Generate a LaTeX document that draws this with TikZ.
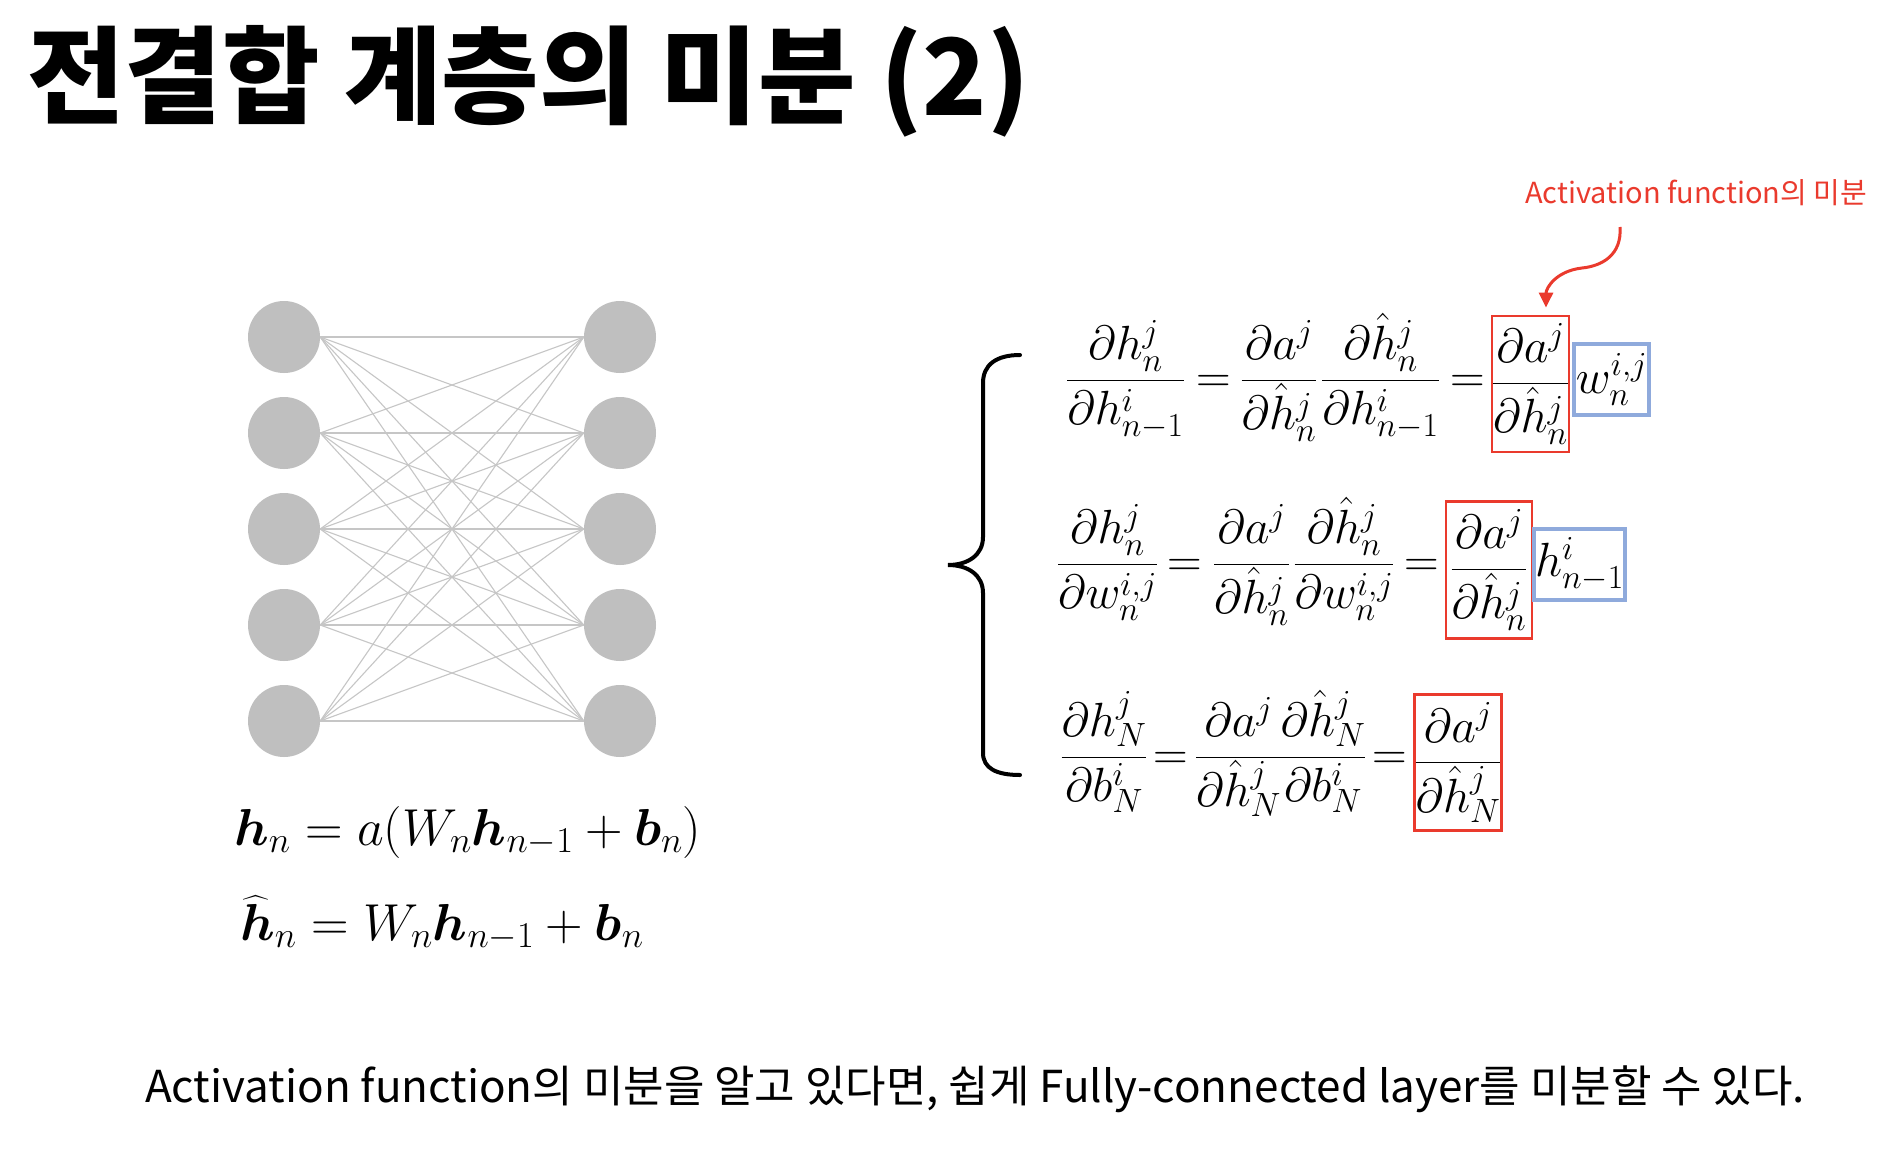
\RequirePackage{fix-cm}
\documentclass[tikz,border=0pt]{standalone}
\usepackage{amsmath,bm}
\usepackage[no-math]{fontspec}
\setmainfont{Noto Sans CJK KR}
\usetikzlibrary{arrows.meta}
\definecolor{boxred}{HTML}{EA3A2D}
\definecolor{boxblue}{HTML}{8FAADC}
\definecolor{neurongray}{HTML}{BFBFBF}
\definecolor{linegray}{HTML}{C6C6C6}
\newcommand\eqsize{\fontsize{48}{56}\selectfont}
\newcommand\leqsize{\fontsize{52}{60}\selectfont}
\begin{document}
\begin{tikzpicture}[x=1pt,y=-1pt,
  neuron/.style={circle, fill=neurongray, draw=none, minimum size=72pt, inner sep=0pt},
  netline/.style={draw=linegray, line width=1.1pt},
  piece/.style={inner sep=0pt, anchor=base, font=\eqsize},
  redbox/.style={draw=boxred, line width=2.8pt, inner sep=0pt, font=\eqsize},
  bluebox/.style={draw=boxblue, line width=4.5pt, inner sep=0pt, font=\eqsize},
  annarrow/.style={draw=boxred, line width=3pt, -{Triangle[length=15pt,width=14pt]}, shorten >=7pt},
  bracepath/.style={draw=black, line width=4pt, line cap=round}
]
\useasboundingbox[fill=white] (0,0) rectangle (1904,1154);

% title
\node[anchor=west, inner sep=0pt, font=\fontsize{106}{116}\selectfont\bfseries] (title) at (27,81) {전결합 계층의 미분 (2)};

% network
\foreach \k/\y in {1/337,2/433,3/529,4/625,5/721}{
  \node[neuron] (L\k) at (284,\y) {};
  \node[neuron] (R\k) at (620,\y) {};
}
\foreach \i in {1,...,5}{
  \foreach \j in {1,...,5}{
    \draw[netline] (L\i.east) -- (R\j.west);
  }
}

% left equations
\node[anchor=base west, inner sep=0pt, font=\leqsize] (eqa) at (234,845) {$\bm{h}_n = a(W_n\bm{h}_{n-1}+\bm{b}_n)$};
\node[anchor=base west, inner sep=0pt, font=\leqsize] (eqb) at (240,940) {$\widehat{\bm{h}}_n = W_n\bm{h}_{n-1}+\bm{b}_n$};

% brace
\draw[bracepath] (1020,355) .. controls (996,355) and (983,365) .. (983,383) -- (983,537)
  .. controls (983,555) and (968,565) .. (948,565)
  .. controls (968,565) and (983,575) .. (983,593) -- (983,753)
  .. controls (983,768) and (996,775) .. (1020,775);

% row 1
\node[piece] (r1l) at (1125.5,392) {$\displaystyle\frac{\partial h_n^j}{\partial h_{n-1}^i}$};
\node[piece] (r1e1) at (1213.5,392) {$=$};
\node[piece] (r1a) at (1279,392) {$\displaystyle\frac{\partial a^j}{\partial\hat{h}_n^j}$};
\node[piece] (r1b) at (1380.5,392) {$\displaystyle\frac{\partial\hat{h}_n^j}{\partial h_{n-1}^i}$};
\node[piece] (r1e2) at (1467.5,392) {$=$};
\node[redbox, minimum width=71pt, minimum height=136pt] (r1r) at (1530.5,384) {$\displaystyle\frac{\partial a^j}{\partial\hat{h}_n^j}$};
\node[bluebox, minimum width=75pt, minimum height=71pt] (r1w) at (1611.5,379.5) {$w_n^{i,j}$};

% row 2
\node[piece] (r2l) at (1107.5,576) {$\displaystyle\frac{\partial h_n^j}{\partial w_n^{i,j}}$};
\node[piece] (r2e1) at (1184.5,576) {$=$};
\node[piece] (r2a) at (1251.5,576) {$\displaystyle\frac{\partial a^j}{\partial\hat{h}_n^j}$};
\node[piece] (r2b) at (1344,576) {$\displaystyle\frac{\partial\hat{h}_n^j}{\partial w_n^{i,j}}$};
\node[piece] (r2e2) at (1421.5,576) {$=$};
\node[redbox, minimum width=86pt, minimum height=137pt] (r2r) at (1489,570) {$\displaystyle\frac{\partial a^j}{\partial\hat{h}_n^j}$};
\node[bluebox, minimum width=91pt, minimum height=71pt] (r2w) at (1579.5,564.5) {$h_{n-1}^i$};

% row 3
\node[piece] (r3l) at (1104,769) {$\displaystyle\frac{\partial h_N^j}{\partial b_N^i}$};
\node[piece] (r3e1) at (1170.5,769) {$=$};
\node[piece] (r3a) at (1238.5,769) {$\displaystyle\frac{\partial a^j}{\partial\hat{h}_N^j}$};
\node[piece] (r3b) at (1323,769) {$\displaystyle\frac{\partial\hat{h}_N^j}{\partial b_N^i}$};
\node[piece] (r3e2) at (1389.5,769) {$=$};
\node[redbox, minimum width=86pt, minimum height=136pt] (r3r) at (1458,762.5) {$\displaystyle\frac{\partial a^j}{\partial\hat{h}_N^j}$};

% annotation
\node[anchor=west, inner sep=0pt, text=boxred, font=\fontsize{29}{34}\selectfont] (ann) at (1525,193) {Activation function의 미분};
\coordinate (arrS) at (1620,227);
\draw[annarrow] (arrS) .. controls (1622,255) and (1602,266) .. (1582,268)
  .. controls (1556,271) and (1546,288) .. ([xshift=15.5pt]r1r.north);

% footer
\node[anchor=west, inner sep=0pt, font=\fontsize{44}{52}\selectfont] (foot) at (145,1089) {Activation function의 미분을 알고 있다면, 쉽게 Fully-connected layer를 미분할 수 있다.};
\end{tikzpicture}
\end{document}
